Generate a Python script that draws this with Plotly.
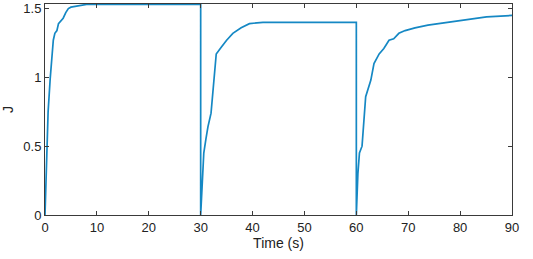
import plotly.graph_objects as go

# Segment 1 (0-30 s)
t1 = [0, 0.3, 0.6, 1.0, 1.3, 1.6, 1.9, 2.3, 2.6, 3.0, 3.5, 4.0, 4.5, 5.0, 6.0, 7.0, 8.0, 10, 15, 20, 30]
j1 = [0, 0.45, 0.75, 0.99, 1.15, 1.27, 1.32, 1.34, 1.39, 1.41, 1.43, 1.47, 1.50, 1.51, 1.515, 1.525, 1.53, 1.53, 1.53, 1.53, 1.53]
# Segment 2 (30-60 s)
t2 = [30, 30.3, 30.6, 31.0, 31.4, 32.0, 32.5, 33.0, 34.0, 35.0, 36.2, 37.8, 39.4, 42, 45, 50, 60]
j2 = [0, 0.25, 0.45, 0.55, 0.64, 0.74, 0.95, 1.17, 1.22, 1.27, 1.32, 1.36, 1.39, 1.40, 1.40, 1.40, 1.40]
# Segment 3 (60-90 s)
t3 = [60, 60.3, 60.6, 61.1, 61.8, 62.2, 62.8, 63.4, 64.4, 65.3, 66.3, 67.2, 68.2, 69.4, 71.3, 73.8, 79.5, 85.1, 90]
j3 = [0, 0.30, 0.45, 0.50, 0.86, 0.91, 0.98, 1.10, 1.17, 1.21, 1.27, 1.28, 1.32, 1.34, 1.36, 1.38, 1.41, 1.44, 1.45]

x_ticks = [0, 10, 20, 30, 40, 50, 60, 70, 80, 90]
y_ticks = [0, 0.5, 1, 1.5]
y_tick_text = ["0", "0.5", "1", "1.5"]

t = t1 + t2 + t3
j = j1 + j2 + j3

fig = go.Figure()
fig.add_trace(go.Scatter(x=t, y=j, mode="lines",
                         line=dict(color="#1588c4", width=1.7)))

axis_common = dict(showgrid=False, zeroline=False, showline=True, linecolor="#3a3a3a",
                   linewidth=1, mirror="ticks", ticks="inside", ticklen=4,
                   tickcolor="#3a3a3a", tickfont=dict(size=13, color="#222"),
                   automargin=False)

fig.update_layout(
    width=533, height=259,
    margin=dict(l=45, r=21, t=4, b=44),
    plot_bgcolor="white", paper_bgcolor="white",
    font=dict(family="Liberation Sans, Arial, sans-serif", size=13, color="#222"),
    showlegend=False,
    xaxis=dict(range=[0, 90], tickvals=x_ticks,
               title=dict(text="Time (s)", standoff=0, font=dict(size=14)), **axis_common),
    yaxis=dict(range=[0, 1.533], tickvals=y_ticks, ticktext=y_tick_text,
               title=dict(text="J", standoff=8, font=dict(size=14)), **axis_common),
)

fig.write_html("out.html", config={"displayModeBar": False},
               post_script="document.body.style.margin='0';document.body.style.overflow='hidden';")
